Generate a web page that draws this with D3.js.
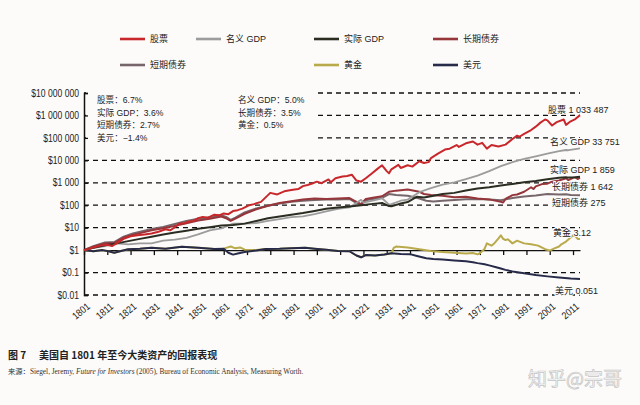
<!DOCTYPE html>
<html><head><meta charset="utf-8">
<script src="https://cdn.jsdelivr.net/npm/d3@7/dist/d3.min.js"></script>
<style>
html,body{margin:0;padding:0;background:#fcfbf9;}
svg{display:block;}
.nar{font-family:"Liberation Sans","Noto Sans CJK SC",sans-serif;}
.cjk{font-family:"Liberation Sans","Noto Sans CJK SC",sans-serif;}
</style></head><body>
<svg id="c" width="640" height="405"></svg>
<script>
// ---- data (values stored as log10 of $ growth of $1 invested in 1801) ----
const yTickValues = [1e7,1e6,1e5,1e4,1e3,100,10,1,0.1,0.01];
const yTickLabels = ["$10 000 000","$1 000 000","$100 000","$10 000","$1 000","$100","$10","$1","$0.1","$0.01"];
const xTickYears = [1801,1811,1821,1831,1841,1851,1861,1871,1881,1891,1901,1911,1921,1931,1941,1951,1961,1971,1981,1991,2001,2011];

const stocks = [[1801,0],[1803,0.05],[1805,0.12],[1808,0.2],[1811,0.24],[1813,0.18],[1815,0.3],[1818,0.5],[1821,0.62],[1824,0.66],[1827,0.7],[1830,0.74],[1833,0.82],[1836,0.93],[1838,0.88],[1840,1.02],[1842,1.18],[1844,1.2],[1846,1.27],[1848,1.3],[1850,1.42],[1852,1.48],[1854,1.44],[1857,1.58],[1859,1.55],[1861,1.63],[1863,1.6],[1865,1.74],[1867,1.78],[1869,1.85],[1872,2.0],[1874,2.05],[1877,2.15],[1879,2.35],[1881,2.55],[1884,2.48],[1887,2.62],[1890,2.68],[1893,2.72],[1895,2.85],[1897,2.9],[1899,2.97],[1901,3.05],[1903,2.98],[1906,3.15],[1907,3.02],[1909,3.2],[1912,3.28],[1914,3.3],[1916,3.36],[1918,3.1],[1920,3.05],[1922,3.2],[1925,3.45],[1927,3.62],[1929,3.78],[1931,3.52],[1932,3.42],[1933,3.6],[1936,3.8],[1937,3.66],[1940,3.78],[1942,3.72],[1945,3.96],[1947,3.88],[1949,3.92],[1950,4.1],[1953,4.3],[1956,4.48],[1958,4.52],[1961,4.68],[1962,4.6],[1965,4.76],[1968,4.84],[1970,4.7],[1972,4.78],[1974,4.52],[1976,4.68],[1979,4.62],[1982,4.7],[1985,4.95],[1987,5.1],[1988,5.05],[1990,5.18],[1993,5.35],[1995,5.5],[1997,5.68],[1999,5.82],[2000,5.78],[2002,5.55],[2004,5.7],[2007,5.82],[2008,5.58],[2010,5.74],[2012,5.84],[2014,6.014]];

const nominalGDP = [[1801,0],[1805,0.1],[1810,0.18],[1815,0.3],[1820,0.26],[1825,0.3],[1830,0.3],[1835,0.42],[1840,0.47],[1845,0.55],[1850,0.7],[1855,0.88],[1860,0.97],[1865,1.18],[1870,1.18],[1875,1.2],[1880,1.3],[1885,1.38],[1890,1.47],[1895,1.5],[1900,1.6],[1905,1.73],[1910,1.84],[1915,1.9],[1920,2.24],[1921,2.12],[1925,2.2],[1929,2.31],[1932,2.03],[1933,2.05],[1937,2.2],[1940,2.25],[1945,2.58],[1950,2.76],[1955,2.92],[1960,3.02],[1965,3.16],[1970,3.32],[1975,3.52],[1980,3.74],[1985,3.92],[1990,4.06],[1995,4.18],[2000,4.3],[2005,4.41],[2008,4.46],[2009,4.45],[2012,4.5],[2014,4.528]];

const realGDP = [[1801,0],[1805,0.1],[1810,0.22],[1815,0.3],[1820,0.4],[1825,0.5],[1830,0.6],[1835,0.7],[1840,0.78],[1845,0.86],[1850,0.95],[1855,1.02],[1860,1.1],[1865,1.12],[1870,1.18],[1875,1.3],[1880,1.42],[1885,1.5],[1890,1.58],[1895,1.65],[1900,1.74],[1905,1.84],[1910,1.9],[1915,1.94],[1920,2.0],[1925,2.06],[1929,2.1],[1932,1.96],[1933,1.95],[1937,2.08],[1940,2.14],[1944,2.38],[1947,2.34],[1950,2.4],[1955,2.5],[1960,2.55],[1965,2.66],[1970,2.74],[1975,2.8],[1980,2.88],[1985,2.95],[1990,3.02],[1995,3.08],[2000,3.16],[2005,3.22],[2008,3.25],[2009,3.23],[2012,3.25],[2014,3.27]];

const longBonds = [[1801,0],[1805,0.15],[1810,0.3],[1814,0.32],[1818,0.55],[1822,0.68],[1826,0.78],[1830,0.88],[1835,0.97],[1840,1.08],[1845,1.2],[1850,1.32],[1855,1.4],[1860,1.5],[1862,1.42],[1864,1.3],[1866,1.4],[1870,1.62],[1875,1.82],[1880,1.98],[1885,2.1],[1890,2.18],[1895,2.25],[1900,2.3],[1905,2.28],[1910,2.3],[1915,2.32],[1917,2.2],[1920,2.05],[1922,2.28],[1925,2.33],[1929,2.4],[1932,2.6],[1935,2.65],[1940,2.7],[1945,2.6],[1947,2.5],[1950,2.46],[1955,2.42],[1960,2.36],[1965,2.38],[1970,2.3],[1975,2.26],[1980,2.15],[1981,2.12],[1982,2.28],[1985,2.45],[1987,2.48],[1990,2.6],[1993,2.8],[1994,2.72],[1995,2.84],[1998,2.95],[2000,2.96],[2002,3.05],[2005,3.1],[2008,3.2],[2009,3.12],[2011,3.22],[2012,3.24],[2013,3.17],[2014,3.215]];

const shortBonds = [[1801,0],[1805,0.17],[1810,0.34],[1814,0.36],[1818,0.6],[1822,0.74],[1826,0.84],[1830,0.94],[1835,1.03],[1840,1.16],[1845,1.3],[1850,1.4],[1855,1.46],[1860,1.56],[1862,1.48],[1864,1.35],[1866,1.45],[1870,1.68],[1875,1.86],[1880,1.98],[1885,2.08],[1890,2.15],[1895,2.2],[1900,2.23],[1905,2.25],[1910,2.26],[1915,2.28],[1917,2.16],[1920,2.02],[1922,2.22],[1925,2.28],[1929,2.33],[1932,2.5],[1935,2.46],[1940,2.42],[1945,2.3],[1948,2.2],[1951,2.17],[1955,2.2],[1960,2.23],[1965,2.27],[1970,2.28],[1975,2.25],[1980,2.22],[1985,2.32],[1990,2.39],[1995,2.43],[2000,2.5],[2005,2.48],[2008,2.49],[2010,2.46],[2014,2.44]];

const gold = [[1801,0],[1805,-0.05],[1809,0],[1812,-0.06],[1814,-0.12],[1816,-0.06],[1820,0.04],[1825,0.06],[1830,0.1],[1836,0.06],[1843,0.15],[1850,0.1],[1857,0.05],[1861,0.06],[1862,0.1],[1864,0.16],[1866,0.08],[1868,0.12],[1870,0.02],[1875,0],[1879,0.05],[1885,0.06],[1890,0.08],[1896,0.1],[1900,0.06],[1905,0.02],[1910,-0.04],[1915,-0.05],[1918,-0.24],[1920,-0.32],[1922,-0.22],[1926,-0.24],[1930,-0.2],[1933,-0.14],[1934,0.1],[1935,0.16],[1940,0.12],[1945,0.04],[1950,-0.04],[1955,-0.08],[1960,-0.12],[1965,-0.15],[1968,-0.13],[1970,-0.19],[1971,-0.14],[1973,0.05],[1974,0.3],[1976,0.2],[1977,0.28],[1979,0.52],[1980,0.66],[1981,0.5],[1982,0.45],[1983,0.48],[1985,0.3],[1987,0.42],[1988,0.38],[1990,0.3],[1993,0.26],[1996,0.2],[1999,0.04],[2001,-0.02],[2003,0.08],[2005,0.16],[2006,0.26],[2008,0.38],[2010,0.56],[2011,0.66],[2012,0.62],[2013,0.5],[2014,0.494]];

const dollar = [[1801,0],[1805,-0.05],[1809,0],[1812,-0.06],[1814,-0.12],[1816,-0.06],[1820,0.04],[1825,0.06],[1830,0.1],[1836,0.06],[1843,0.15],[1850,0.1],[1857,0.05],[1861,0.06],[1863,-0.12],[1865,-0.2],[1867,-0.15],[1870,-0.08],[1875,-0.02],[1879,0.05],[1885,0.06],[1890,0.08],[1896,0.1],[1900,0.06],[1905,0.02],[1910,-0.04],[1915,-0.05],[1918,-0.24],[1920,-0.32],[1922,-0.22],[1926,-0.24],[1930,-0.2],[1933,-0.14],[1937,-0.17],[1941,-0.18],[1944,-0.26],[1948,-0.36],[1951,-0.4],[1955,-0.42],[1960,-0.46],[1965,-0.5],[1968,-0.54],[1970,-0.58],[1973,-0.63],[1975,-0.68],[1978,-0.76],[1980,-0.82],[1982,-0.88],[1985,-0.95],[1990,-1.03],[1995,-1.11],[2000,-1.17],[2005,-1.22],[2010,-1.27],[2014,-1.29]];

const seriesNames = ["股票","名义 GDP","实际 GDP","长期债券","短期债券","黄金","美元"];
const endLabels = ["股票 1 033 487","名义 GDP 33 751","实际 GDP 1 859","长期债券 1 642","短期债券 275","黄金 3.12","美元 0.051"];
const cagrLeft = ["股票：6.7%","实际 GDP：3.6%","短期债券：2.7%","美元：−1.4%"];
const cagrRight = ["名义 GDP：5.0%","长期债券：3.5%","黄金：0.5%"];

// ---- drawing ----
const BG = "#fcfbf9";
const svg = d3.select("#c");
const colors = {"股票":"#c8282c","名义 GDP":"#9c9c9c","实际 GDP":"#2b2d22","长期债券":"#96353a","短期债券":"#76666b","黄金":"#b9aa4c","美元":"#272a48"};
const dataMap = {"股票":stocks,"名义 GDP":nominalGDP,"实际 GDP":realGDP,"长期债券":longBonds,"短期债券":shortBonds,"黄金":gold,"美元":dollar};

const x = d3.scaleLinear().domain([1801,2014]).range([84,580]);
const y = d3.scaleLog().domain([0.01,1e7]).range([295,93]);

// gridlines
svg.append("g").selectAll("line").data(yTickValues.filter(v=>v!==1)).join("line")
  .attr("x1",84).attr("x2",580).attr("y1",d=>y(d)).attr("y2",d=>y(d))
  .attr("stroke","#111").attr("stroke-width",1.3).attr("stroke-dasharray","5,4");

// white annotation box hiding top gridlines
svg.append("rect").attr("x",86).attr("y",86).attr("width",231).attr("height",58).attr("fill",BG);

// y axis
const yAxis = d3.axisLeft(y).tickValues(yTickValues).tickSize(-4).tickPadding(0)
  .tickFormat((d,i)=>yTickLabels[i]);
const gy = svg.append("g").attr("transform","translate(84,0)").call(yAxis);
gy.select(".domain").attr("stroke","#111").attr("stroke-width",1.5);
gy.selectAll(".tick line").attr("stroke","#111").attr("stroke-width",1.3);
gy.selectAll("text").attr("class","nar").style("font-size","10px").attr("fill","#222")
  .attr("x",0).attr("transform","translate(-5,0) scale(0.86,1)");

// x axis at $1
const xAxis = d3.axisBottom(x).tickValues(xTickYears).tickSize(5).tickSizeOuter(0).tickFormat("");
const gx = svg.append("g").attr("transform",`translate(0,${y(1)})`).call(xAxis);
gx.select(".domain").attr("stroke","#111").attr("stroke-width",1.4);
gx.selectAll(".tick line").attr("stroke","#111").attr("stroke-width",1.3);

svg.append("g").selectAll("text").data(xTickYears).join("text")
  .attr("class","nar").style("font-size","10px").attr("fill","#222")
  .attr("text-anchor","end")
  .attr("transform",d=>`translate(${x(d)+2},${302}) rotate(-40) scale(0.88,1)`)
  .attr("dy","0.72em").text(d=>d);

// lines
const line = d3.line().x(d=>x(d[0])).y(d=>y(Math.pow(10,d[1])));
const order = ["黄金","美元","短期债券","长期债券","名义 GDP","实际 GDP","股票"];
svg.append("g").selectAll("path").data(order).join("path")
  .attr("d",k=>line(dataMap[k])).attr("fill","none")
  .attr("stroke",k=>colors[k]).attr("stroke-width",k=>k==="名义 GDP"?1.8:2)
  .attr("stroke-linejoin","round");

// legend
const legendPos = [[120,39],[196,39],[314,39],[433,39],[120,65],[314,65],[433,65]];
const lg = svg.append("g");
seriesNames.forEach((n,i)=>{
  const [lx,ly] = legendPos[i];
  lg.append("line").attr("x1",lx).attr("x2",lx+25).attr("y1",ly).attr("y2",ly)
    .attr("stroke",colors[n]).attr("stroke-width",2.6);
  lg.append("text").attr("class","cjk").attr("x",lx+30).attr("y",ly).attr("dy","0.35em")
    .style("font-size","9px").attr("fill","#222").text(n);
});

// CAGR annotations
svg.append("g").selectAll("text").data(cagrLeft).join("text").attr("class","cjk")
  .attr("x",97).attr("y",(d,i)=>100+i*12.6).attr("dy","0.35em")
  .style("font-size","8.6px").attr("fill","#222").text(d=>d);
svg.append("g").selectAll("text").data(cagrRight).join("text").attr("class","cjk")
  .attr("x",238).attr("y",(d,i)=>100+i*12.6).attr("dy","0.35em")
  .style("font-size","8.6px").attr("fill","#222").text(d=>d);

// end labels
const endPos = [[548,110],[550,142],[550,170],[552,187],[552,203],[553,233],[555,291]];
svg.append("g").selectAll("text").data(endLabels).join("text").attr("class","cjk")
  .attr("x",(d,i)=>endPos[i][0]).attr("y",(d,i)=>endPos[i][1]).attr("dy","0.35em")
  .style("font-size","9px").attr("fill","#222")
  .attr("stroke",BG).attr("stroke-width",2).attr("paint-order","stroke")
  .text(d=>d);

// caption
svg.append("text").attr("x",8).attr("y",359).style("font-family","'Noto Sans CJK SC',sans-serif")
  .style("font-size","10px").style("font-weight","700").attr("fill","#222").text("图 7");
svg.append("text").attr("x",39).attr("y",359).style("font-family","'Noto Sans CJK SC',sans-serif")
  .style("font-size","10px").style("font-weight","700").attr("fill","#222").text("美国自 1801 年至今大类资产的回报表现");
const src = svg.append("text").attr("x",8).attr("y",374).style("font-size","7.3px").attr("fill","#333")
  .style("font-family","'Liberation Serif','Noto Sans CJK SC',serif");
src.append("tspan").style("font-family","'Noto Sans CJK SC',sans-serif").text("来源：");
src.append("tspan").text("Siegel, Jeremy, ");
src.append("tspan").style("font-style","italic").text("Future for Investors");
src.append("tspan").text(" (2005), Bureau of Economic Analysis, Measuring Worth.");

// watermark
svg.append("text").attr("x",528).attr("y",386).style("font-family","'Noto Sans CJK SC',sans-serif")
  .style("font-size","19px").attr("fill","#fdfdfd").attr("stroke","#c4c4c4").attr("stroke-width",0.7)
  .text("知乎@宗哥");
</script>
</body></html>
